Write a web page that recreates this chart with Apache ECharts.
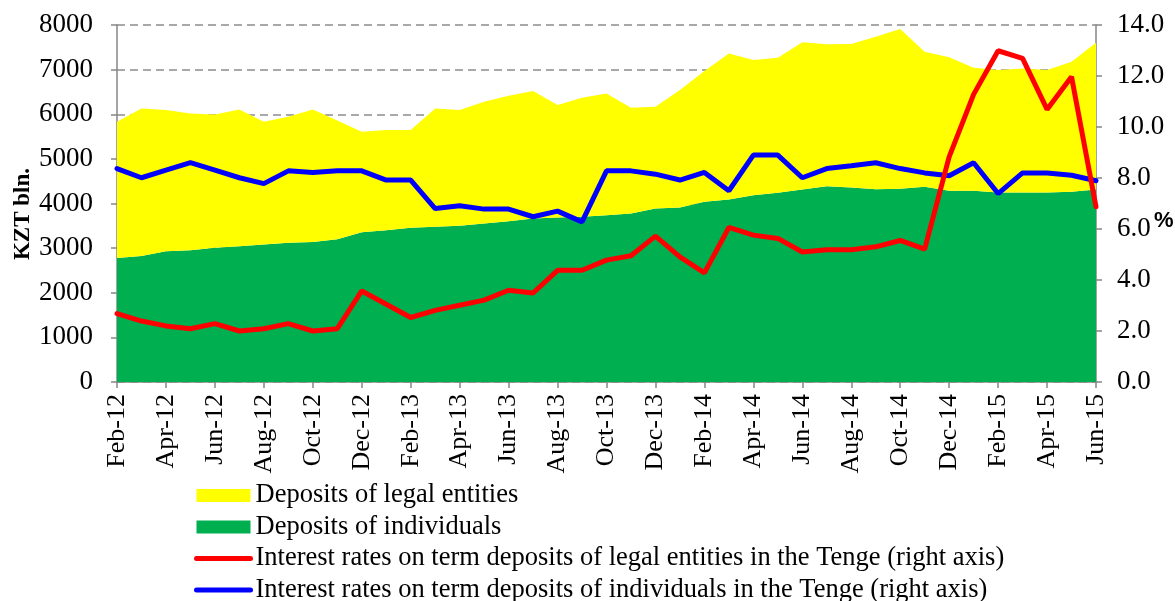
<!DOCTYPE html>
<html>
<head>
<meta charset="utf-8">
<script src="https://cdn.jsdelivr.net/npm/echarts@6/dist/echarts.min.js"></script>
<style>
  html, body { margin: 0; padding: 0; background: #fff; }
  #chart { width: 1175px; height: 601px; }
</style>
</head>
<body>
<div id="chart"></div>
<script>
const months = [
  "Feb-12", "Mar-12", "Apr-12", "May-12", "Jun-12", "Jul-12", "Aug-12", "Sep-12", "Oct-12", "Nov-12", "Dec-12",
  "Jan-13", "Feb-13", "Mar-13", "Apr-13", "May-13", "Jun-13", "Jul-13", "Aug-13", "Sep-13", "Oct-13", "Nov-13", "Dec-13",
  "Jan-14", "Feb-14", "Mar-14", "Apr-14", "May-14", "Jun-14", "Jul-14", "Aug-14", "Sep-14", "Oct-14", "Nov-14", "Dec-14",
  "Jan-15", "Feb-15", "Mar-15", "Apr-15", "May-15", "Jun-15"
];

// KZT bln.
const individuals = [
  2781, 2826, 2931, 2953, 3006, 3043, 3080, 3118, 3140, 3200, 3355,
  3402, 3454, 3477, 3500, 3551, 3604, 3664, 3686, 3701, 3738, 3776, 3888,
  3910, 4037, 4090, 4187, 4239, 4314, 4389, 4359, 4321, 4330, 4374, 4284,
  4284, 4247, 4247, 4247, 4262, 4314
];
const legalEntities = [
  3051, 3305, 3162, 3066, 2990, 3065, 2752, 2826, 2968, 2660, 2252,
  2243, 2191, 2654, 2593, 2729, 2811, 2856, 2520, 2669, 2729, 2370, 2280,
  2632, 2931, 3274, 3028, 3028, 3297, 3177, 3215, 3417, 3580, 3028, 2991,
  2759, 2744, 2781, 2744, 2916, 3290
];

// %
const rateLegal = [
  2.68, 2.39, 2.20, 2.09, 2.29, 2.00, 2.09, 2.29, 2.00, 2.09, 3.57,
  3.05, 2.53, 2.81, 3.01, 3.21, 3.60, 3.49, 4.38, 4.38, 4.78, 4.95, 5.72,
  4.91, 4.28, 6.06, 5.76, 5.63, 5.10, 5.19, 5.19, 5.30, 5.55, 5.21, 8.83,
  11.28, 12.99, 12.69, 10.69, 11.97, 6.87
];
const rateIndividuals = [
  8.37, 8.01, 8.31, 8.60, 8.31, 8.01, 7.78, 8.28, 8.22, 8.28, 8.28,
  7.92, 7.92, 6.80, 6.91, 6.78, 6.78, 6.48, 6.70, 6.28, 8.28, 8.28, 8.15,
  7.92, 8.22, 7.50, 8.90, 8.90, 8.01, 8.37, 8.48, 8.60, 8.37, 8.20, 8.09,
  8.60, 7.39, 8.20, 8.20, 8.11, 7.89
];

const serif = '"Liberation Serif", "Times New Roman", serif';
const axisGray = "#868686";

const chart = echarts.init(document.getElementById("chart"));

chart.setOption({
  animation: false,
  textStyle: { fontFamily: serif, color: "#000" },
  grid: { left: 117, right: 79, top: 25, bottom: 219, containLabel: false, outerBoundsMode: "none" },
  // axis titles placed by hand, like in the source picture
  graphic: [
    {
      type: "text",
      x: 23,
      y: 214,
      rotation: Math.PI / 2,
      style: {
        text: "KZT bln.",
        align: "center",
        verticalAlign: "middle",
        font: 'bold 23px "Liberation Serif", serif',
        fill: "#000"
      }
    },
    {
      type: "text",
      left: 1154,
      top: 210,
      style: {
        text: "%",
        font: 'bold 22px "Liberation Sans", Arial, sans-serif',
        fill: "#000"
      }
    }
  ],
  legend: {
    orient: "vertical",
    left: 194,
    top: 482,
    height: 130,
    padding: 0,
    itemWidth: 54,
    itemHeight: 13,
    itemGap: 4.5,
    textStyle: { fontFamily: serif, fontSize: 26.5, lineHeight: 26, color: "#000" },
    data: [
      { name: "Deposits of legal entities", icon: "rect" },
      { name: "Deposits of individuals", icon: "rect" },
      {
        name: "Interest rates on term deposits of legal entities in the Tenge (right axis)",
        itemStyle: { opacity: 0 },
        lineStyle: { width: 5, cap: "round" }
      },
      {
        name: "Interest rates on term deposits of individuals in the Tenge (right axis)",
        itemStyle: { opacity: 0 },
        lineStyle: { width: 5, cap: "round" }
      }
    ]
  },
  xAxis: {
    type: "category",
    data: months,
    boundaryGap: false,
    axisLine: { lineStyle: { color: axisGray, width: 1.5 } },
    axisTick: { interval: 1, length: 6, lineStyle: { color: axisGray, width: 1.5 } },
    axisLabel: {
      interval: 1,
      rotate: 90,
      margin: 12,
      fontFamily: serif,
      fontSize: 26,
      color: "#000"
    }
  },
  yAxis: [
    {
      type: "value",
      min: 0,
      max: 8000,
      interval: 1000,
      axisLine: { show: true, lineStyle: { color: axisGray, width: 1.5 } },
      axisTick: { show: true, length: 6, lineStyle: { color: axisGray, width: 1.5 } },
      axisLabel: {
        margin: 24,
        fontFamily: serif,
        fontSize: 27,
        color: "#000",
        formatter: (v) => String(v)
      },
      splitLine: { lineStyle: { color: "#8c8c8c", width: 1.5, type: [8, 5] } }
    },
    {
      type: "value",
      min: 0,
      max: 14,
      interval: 2,
      axisLine: { show: true, lineStyle: { color: axisGray, width: 1.5 } },
      axisTick: { show: true, length: 6, lineStyle: { color: axisGray, width: 1.5 } },
      axisLabel: {
        margin: 21,
        fontFamily: serif,
        fontSize: 27,
        color: "#000",
        formatter: (v) => v.toFixed(1)
      },
      splitLine: { show: false }
    }
  ],
  series: [
    {
      name: "Deposits of individuals",
      type: "line",
      stack: "deposits",
      data: individuals,
      symbol: "none",
      lineStyle: { width: 0 },
      itemStyle: { color: "#00B050" },
      areaStyle: { color: "#00B050", opacity: 1 }
    },
    {
      name: "Deposits of legal entities",
      type: "line",
      stack: "deposits",
      data: legalEntities,
      symbol: "none",
      lineStyle: { width: 0 },
      itemStyle: { color: "#FFFF00" },
      areaStyle: { color: "#FFFF00", opacity: 1 }
    },
    {
      name: "Interest rates on term deposits of individuals in the Tenge (right axis)",
      type: "line",
      yAxisIndex: 1,
      data: rateIndividuals,
      symbol: "none",
      itemStyle: { color: "#0000FF" },
      lineStyle: { color: "#0000FF", width: 5, cap: "round" }
    },
    {
      name: "Interest rates on term deposits of legal entities in the Tenge (right axis)",
      type: "line",
      yAxisIndex: 1,
      data: rateLegal,
      symbol: "none",
      itemStyle: { color: "#FF0000" },
      lineStyle: { color: "#FF0000", width: 5, cap: "round" }
    }
  ]
});
</script>
</body>
</html>
